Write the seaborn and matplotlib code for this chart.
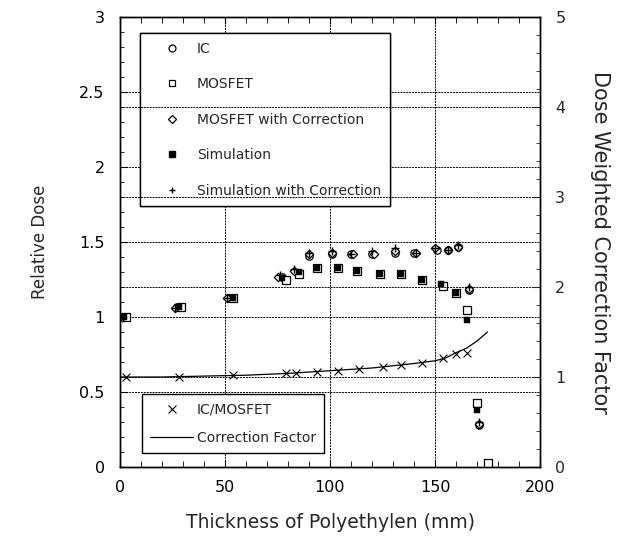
import matplotlib
matplotlib.use("Agg")
import matplotlib.pyplot as plt
import seaborn as sns
import pandas as pd
from matplotlib.lines import Line2D
from matplotlib.ticker import MultipleLocator

# ---- data ----
ic_x = [0, 27, 52, 77, 90, 101, 110, 120, 131, 140, 151, 156, 161, 166, 171, 175]
ic_y = [1.0, 1.07, 1.13, 1.27, 1.41, 1.42, 1.42, 1.42, 1.43, 1.43, 1.45, 1.45, 1.47, 1.18, 0.28, 0.0]

mos_x = [3, 29, 54, 79, 85, 94, 104, 113, 124, 134, 144, 154, 160, 165, 170, 175]
mos_y = [1.0, 1.07, 1.13, 1.25, 1.29, 1.33, 1.33, 1.31, 1.29, 1.29, 1.25, 1.21, 1.16, 1.05, 0.43, 0.03]

mosc_x = [1, 26, 51, 75, 83, 90, 101, 111, 121, 131, 141, 150, 156, 161, 166, 171]
mosc_y = [1.0, 1.06, 1.13, 1.27, 1.31, 1.42, 1.43, 1.42, 1.42, 1.44, 1.43, 1.46, 1.45, 1.47, 1.19, 0.29]

sim_x = [2, 28, 54, 77, 85, 94, 104, 113, 124, 134, 144, 153, 160, 165, 170]
sim_y = [1.0, 1.07, 1.13, 1.26, 1.30, 1.33, 1.33, 1.31, 1.29, 1.29, 1.25, 1.22, 1.16, 0.98, 0.38]

simc_x = [0, 26, 51, 76, 83, 90, 101, 110, 120, 131, 141, 150, 156, 161, 166, 171]
simc_y = [1.0, 1.06, 1.13, 1.28, 1.32, 1.43, 1.44, 1.42, 1.44, 1.46, 1.43, 1.46, 1.45, 1.48, 1.20, 0.30]

ratio_x = [3, 28, 54, 79, 84, 94, 104, 114, 125, 134, 144, 154, 160, 165]
ratio_y = [1.0, 1.0, 1.02, 1.04, 1.05, 1.06, 1.07, 1.09, 1.11, 1.13, 1.16, 1.21, 1.26, 1.27]

cf_x = [0, 20, 40, 60, 80, 100, 120, 140, 150, 155, 160, 165, 170, 175]
cf_y = [1.0, 1.0, 1.01, 1.02, 1.04, 1.07, 1.10, 1.15, 1.18, 1.21, 1.27, 1.32, 1.40, 1.50]

x_ticks = [0, 50, 100, 150, 200]
left_ticks = [0, 0.5, 1, 1.5, 2, 2.5, 3]
left_tick_labels = ["0", "0.5", "1", "1.5", "2", "2.5", "3"]
right_ticks = [0, 1, 2, 3, 4, 5]

sns.set_style("ticks")
plt.rcParams['font.family'] = ['DejaVu Sans']

fig = plt.figure(figsize=(6.32, 5.46), dpi=100)
ax = fig.add_axes([120/632, 1-467/546, 420/632, 450/546])
ax2 = ax.twinx()

grid_kw = dict(color="black", linewidth=0.7, linestyle=(0, (2, 1)), zorder=0)
for xv in [50, 100, 150]:
    ax.axvline(xv, **grid_kw)
for yv in [0.5, 1.0, 1.5, 2.0, 2.5]:
    ax.axhline(yv, **grid_kw)
for yv in [1, 2, 3, 4]:
    ax2.axhline(yv, **grid_kw)

sns.scatterplot(x=ic_x, y=ic_y, marker="o", s=28, facecolor="white", edgecolor="black", linewidth=0.9, ax=ax, legend=False, zorder=3)
sns.scatterplot(x=mos_x, y=mos_y, marker="s", s=30, facecolor="white", edgecolor="black", linewidth=0.9, ax=ax, legend=False, zorder=3)
sns.scatterplot(x=mosc_x, y=mosc_y, marker="D", s=18, facecolor="white", edgecolor="black", linewidth=0.9, ax=ax, legend=False, zorder=4)
sns.scatterplot(x=sim_x, y=sim_y, marker="s", s=14, color="black", edgecolor="black", ax=ax, legend=False, zorder=5)
sns.scatterplot(x=simc_x, y=simc_y, marker="+", s=30, color="black", linewidth=1.0, ax=ax, legend=False, zorder=5)

sns.scatterplot(x=ratio_x, y=ratio_y, marker="x", s=32, color="black", linewidth=0.8, ax=ax2, legend=False, zorder=3)
sns.lineplot(x=cf_x, y=cf_y, color="black", linewidth=0.9, ax=ax2, legend=False, zorder=3)

ax.set_xlim(0, 200)
ax.set_ylim(0, 3)
ax2.set_ylim(0, 5)
ax.set_xticks(x_ticks)
ax.set_yticks(left_ticks)
ax.set_yticklabels(left_tick_labels)
ax2.set_yticks(right_ticks)
ax.xaxis.set_minor_locator(MultipleLocator(10))
ax.yaxis.set_minor_locator(MultipleLocator(0.1))
ax2.yaxis.set_minor_locator(MultipleLocator(0.2))

for a in (ax, ax2):
    for s in a.spines.values():
        s.set_visible(True)
        s.set_linewidth(1.0)
        s.set_color("black")
ax.tick_params(axis="both", which="both", direction="in", top=True, colors="black", labelsize=11.5)
ax.tick_params(axis="y", which="major", length=5, pad=11)
ax.tick_params(axis="y", which="minor", length=3)
ax.tick_params(axis="x", which="major", length=5, pad=9)
ax.tick_params(axis="x", which="minor", length=4)
ax2.tick_params(axis="y", which="both", direction="in", labelsize=11.5, pad=11)
ax2.tick_params(axis="y", which="major", length=5)
ax2.tick_params(axis="y", which="minor", length=3)

ax.set_xlabel("Thickness of Polyethylen (mm)", fontsize=13.5, labelpad=13)
ax.set_ylabel("Relative Dose", fontsize=12, labelpad=22)
ax2.set_ylabel("Dose Weighted Correction Factor", fontsize=15, rotation=-90, labelpad=32)

h1 = [
    Line2D([], [], linestyle="none", marker="o", markersize=5, markerfacecolor="white", markeredgecolor="black", markeredgewidth=0.9),
    Line2D([], [], linestyle="none", marker="s", markersize=5, markerfacecolor="white", markeredgecolor="black", markeredgewidth=0.9),
    Line2D([], [], linestyle="none", marker="D", markersize=4, markerfacecolor="white", markeredgecolor="black", markeredgewidth=0.9),
    Line2D([], [], linestyle="none", marker="s", markersize=4, markerfacecolor="black", markeredgecolor="black"),
    Line2D([], [], linestyle="none", marker="+", markersize=5, markeredgecolor="black", markeredgewidth=1.0),
]
l1 = ["IC", "MOSFET", "MOSFET with Correction", "Simulation", "Simulation with Correction"]
leg1 = ax.legend(h1, l1, loc="upper left", bbox_to_anchor=(0.048, 0.964), borderaxespad=0,
                 fontsize=10, frameon=True, fancybox=False, edgecolor="black", framealpha=1,
                 borderpad=0.6, labelspacing=1.55, handlelength=3.4, handletextpad=0.1, numpoints=1)
leg1.get_frame().set_linewidth(1.0)
ax.add_artist(leg1)

h2 = [
    Line2D([], [], linestyle="none", marker="x", markersize=6, markeredgecolor="black", markeredgewidth=0.8),
    Line2D([], [], color="black", linewidth=0.9),
]
l2 = ["IC/MOSFET", "Correction Factor"]
leg2 = ax2.legend(h2, l2, loc="lower left", bbox_to_anchor=(0.052, 0.031), borderaxespad=0,
                  fontsize=10, frameon=True, fancybox=False, edgecolor="black", framealpha=1,
                  borderpad=0.6, labelspacing=1.0, handlelength=3.1, handletextpad=0.25, numpoints=1)
leg2.get_frame().set_linewidth(1.0)

fig.savefig("out.png", dpi=100)
